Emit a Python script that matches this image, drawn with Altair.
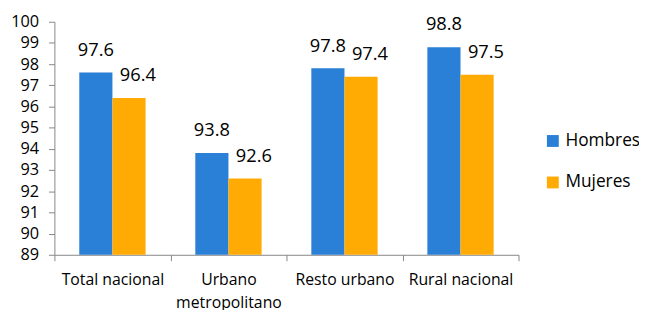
import altair as alt
import pandas as pd

categories = ["Total nacional", "Urbano metropolitano", "Resto urbano", "Rural nacional"]
hombres = [97.6, 93.8, 97.8, 98.8]
mujeres = [96.4, 92.6, 97.4, 97.5]
series = ["Hombres", "Mujeres"]
colors = ["#2A7FD6", "#FFAB04"]
y_ticks = list(range(89, 101))
y_min, y_max = 89, 100

rows = []
for c, h, m in zip(categories, hombres, mujeres):
    rows.append({"cat": c, "serie": "Hombres", "val": h})
    rows.append({"cat": c, "serie": "Mujeres", "val": m})
df = pd.DataFrame(rows)

FONT = "Open Sans"

x = alt.X(
    "cat:N",
    sort=categories,
    title=None,
    scale=alt.Scale(paddingInner=0, paddingOuter=0),
    axis=alt.Axis(
        labelAngle=0,
        tickBand="extent",
        domainColor="#868686",
        tickColor="#868686",
        tickSize=6,
        labelFont=FONT,
        labelFontSize=16,
        labelColor="#000000",
        labelPadding=11,
        labelLineHeight=23,
        labelExpr="datum.label == 'Urbano metropolitano' ? ['Urbano', 'metropolitano'] : datum.label",
    ),
)
xo = alt.XOffset("serie:N", sort=series, scale=alt.Scale(paddingInner=0, paddingOuter=0.75))
y = alt.Y(
    "val:Q",
    title=None,
    scale=alt.Scale(domain=[y_min, y_max], nice=False, zero=False),
    axis=alt.Axis(
        values=y_ticks,
        grid=False,
        domainColor="#868686",
        tickColor="#868686",
        tickSize=6,
        labelFont=FONT,
        labelFontSize=16.5,
        labelColor="#000000",
        labelPadding=10,
    ),
)
color = alt.Color(
    "serie:N",
    sort=series,
    scale=alt.Scale(domain=series, range=colors),
    legend=alt.Legend(
        title=None,
        orient="none",
        legendX=496,
        legendY=112,
        symbolType="square",
        symbolSize=144,
        symbolStrokeWidth=0,
        labelFont=FONT,
        labelFontSize=17.5,
        labelColor="#000000",
        rowPadding=23,
        labelOffset=4,
    ),
)

base = alt.Chart(df)
bars = base.mark_bar().encode(x=x, xOffset=xo, y=y, y2=alt.datum(y_min), color=color)
lab_h = base.transform_filter(alt.datum.serie == "Hombres").mark_text(
    baseline="alphabetic", dy=-17, dx=0, font=FONT, fontSize=18.5, color="#000000"
).encode(x=x, xOffset=xo, y=y, text=alt.Text("val:Q", format=".1f"))
lab_m = base.transform_filter(alt.datum.serie == "Mujeres").mark_text(
    baseline="alphabetic", dy=-17, dx=9, font=FONT, fontSize=18.5, color="#000000"
).encode(x=x, xOffset=xo, y=y, text=alt.Text("val:Q", format=".1f"))

chart = (
    alt.layer(bars, lab_h, lab_m)
    .properties(
        width=470,
        height=236,
        autosize=alt.AutoSizeParams(type="none"),
        padding={"left": 47, "top": 12, "right": 122, "bottom": 54},
    )
    .configure_view(stroke=None)
)

chart.save("out.html", embed_options={"renderer": "svg", "actions": False})
